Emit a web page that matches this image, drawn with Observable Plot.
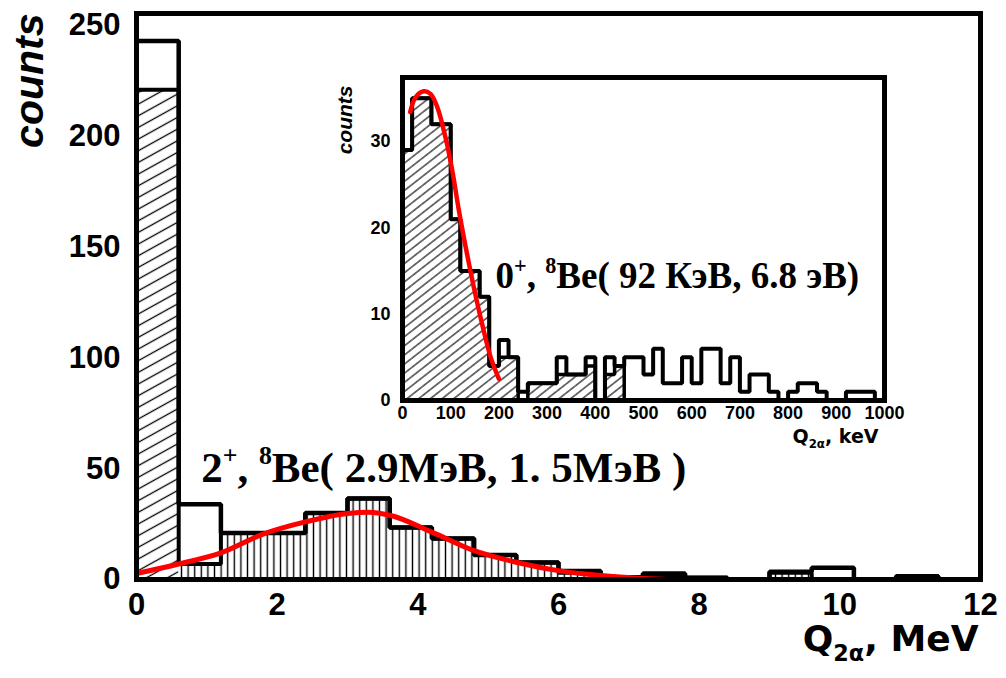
<!DOCTYPE html>
<html><head><meta charset="utf-8">
<script src="https://cdn.jsdelivr.net/npm/d3@7"></script>
<script src="https://cdn.jsdelivr.net/npm/@observablehq/plot@0.6"></script>
<style>
html,body{margin:0;padding:0;background:#fff;}
#wrap{position:relative;width:1006px;height:678px;overflow:hidden;background:#fff;}
#wrap svg{position:absolute;}
</style></head><body><div id="wrap"></div>
<script>
// ---------- main histogram (MeV) ----------
const mainEdges = [0,0.6,1.2,1.8,2.4,3.0,3.6,4.2,4.8,5.4,6.0,6.6,7.2,7.8,8.4,9.0,9.6,10.2,10.8,11.4,12.0];
const mainTotal    = [243,34,21,21,30,36.5,23.5,18.5,11,7.7,3.8,1,2.7,0.8,0,3.5,5.3,0,1.5,0];
const mainSelected = [221,7,21,21,30,36.5,23.5,18.5,11,7.7,3,1,2,0.8,0,3,0,0,1.5,0];
const mainFitX = [0,0.6,1.2,1.8,2.4,3.0,3.3,3.6,4.2,4.8,5.4,6.0,6.6,7.2,7.6,12];
const mainFitY = [2.7,7,12,20.5,26,29.8,30.4,29,21.4,13,7.8,4,1.8,0.5,0,0];
const mainXTicks = [0,2,4,6,8,10,12];
const mainYTicks = [0,50,100,150,200,250];
const mainNote = "2^{+}, ^{8}Be( 2.9МэВ, 1. 5МэВ )";
const mainXTitle = "Q_{2α}, MeV";
const mainYTitle = "counts";

// ---------- inset histogram (keV) ----------
const insetEdges = [0,20,40,60,80,100,120,140,160,180,200,220,240,260,280,300,320,340,360,380,400,
  420,440,460,480,500,520,540,560,580,600,620,640,660,680,700,720,740,760,780,800,
  820,840,860,880,900,920,940,960,980,1000];
const insetTotal    = [29,35,35,32,32,21,15,15,12,4,7,5,1,2,2,2,5,3,3,5,0,5,4,5,5,3,6,2,2,5,2,6,6,2,5,1,3,3,1,0,1,2,2,1,0,0,1,1,1,0];
const insetSelected = [29,35,35,32,32,21,15,15,12,4,5,5,0,2,2,2,3,3,3,4,0,3,4,0,0,0,0,0,0,0,0,0,0,0,0,0,0,0,0,0,0,0,0,0,0,0,0,0,0,0];
const insetFitX = [16,27,44,58,72,89,103,117,131,148,165,183,200];
const insetFitY = [33.4,35.1,35.8,35.5,34,30.5,26.7,22,17.8,13.1,8.9,5.0,2.5];
const insetXTicks = [0,100,200,300,400,500,600,700,800,900,1000];
const insetYTicks = [0,10,20,30];
const insetNote = "0^{+}, ^{8}Be( 92 КэВ, 6.8 эВ)";
const insetXTitle = "Q_{2α}, keV";
const insetYTitle = "counts";

// ---------- helpers ----------
const bins = (edges, tot, sel) => tot.map((v, i) => ({lo: edges[i], hi: edges[i + 1], total: v, sel: sel[i]}));
const steps = (edges, vals) => [
  {x: edges[0], y: 0},
  ...vals.map((v, i) => ({x: edges[i], y: v})),
  {x: edges[edges.length - 1], y: vals[vals.length - 1]},
  {x: edges[edges.length - 1], y: 0}
];
const pts = (xs, ys) => xs.map((x, i) => ({x, y: ys[i]}));

const SANS = "Liberation Sans, Arial, sans-serif";
const WIDE = "DejaVu Sans, sans-serif";
const SERIF = "Liberation Serif, Times New Roman, serif";

function addDefs(svg, html) {
  const ns = "http://www.w3.org/2000/svg";
  const defs = document.createElementNS(ns, "defs");
  defs.innerHTML = html;
  svg.insertBefore(defs, svg.firstChild);
}
function richText(svg) {
  const ns = "http://www.w3.org/2000/svg";
  svg.querySelectorAll("text").forEach(t => {
    const s = t.textContent;
    if (!/[\^_]\{/.test(s)) return;
    const fs = parseFloat(getComputedStyle(t).fontSize);
    const parts = [];
    const re = /(\^|_)\{([^}]*)\}/g;
    let last = 0, m;
    while ((m = re.exec(s))) {
      if (m.index > last) parts.push({k: "n", s: s.slice(last, m.index)});
      parts.push({k: m[1] === "^" ? "sup" : "sub", s: m[2]});
      last = re.lastIndex;
    }
    if (last < s.length) parts.push({k: "n", s: s.slice(last)});
    while (t.firstChild) t.removeChild(t.firstChild);
    let shift = 0;
    for (const p of parts) {
      const ts = document.createElementNS(ns, "tspan");
      let target = 0;
      if (p.k === "sup") { target = -0.42 * fs; ts.setAttribute("font-size", 0.6 * fs); }
      if (p.k === "sub") { target = 0.28 * fs; ts.setAttribute("font-size", 0.62 * fs); }
      ts.setAttribute("dy", target - shift);
      shift = target;
      ts.textContent = p.s;
      t.appendChild(ts);
    }
  });
}

const wrap = document.getElementById("wrap");

// ---------- main chart ----------
const mb = bins(mainEdges, mainTotal, mainSelected);
const main = Plot.plot({
  width: 1006, height: 678,
  marginLeft: 136, marginRight: 26, marginTop: 13, marginBottom: 99,
  x: {domain: [0, 12]},
  y: {domain: [0, 255.4]},
  style: {background: "transparent", overflow: "visible", fontFamily: SANS},
  marks: [
    Plot.rectY(mb.slice(0, 1), {x1: "lo", x2: "hi", y: "sel", fill: "url(#mDiag)"}),
    Plot.rectY(mb.slice(1), {x1: "lo", x2: "hi", y: "sel", fill: "url(#mVert)"}),
    Plot.line(steps(mainEdges, mainSelected), {x: "x", y: "y", curve: "step-after", stroke: "black", strokeWidth: 4, strokeLinejoin: "miter", strokeLinecap: "butt"}),
    Plot.line(steps(mainEdges, mainTotal), {x: "x", y: "y", curve: "step-after", stroke: "black", strokeWidth: 4.5, strokeLinejoin: "miter", strokeLinecap: "butt"}),
    Plot.line(pts(mainFitX, mainFitY), {x: "x", y: "y", curve: "monotone-x", stroke: "#ff0000", strokeWidth: 5}),
    Plot.frame({stroke: "black", strokeWidth: 5}),
    Plot.axisX({ticks: mainXTicks, tickSize: 0, tickPadding: 13, fontSize: 31, fontWeight: "bold", fontFamily: SANS, label: null, tickFormat: d3.format("d")}),
    Plot.axisY({ticks: mainYTicks, tickSize: 0, tickPadding: 16, fontSize: 31, fontWeight: "bold", fontFamily: SANS, label: null, tickFormat: d3.format("d")}),
    Plot.text([mainNote], {text: d => d, x: 0.92, y: 43.8, textAnchor: "start", lineAnchor: "bottom", fontSize: 43, fontWeight: "bold", fontFamily: SERIF, fill: "black"}),
    Plot.text([mainXTitle], {text: d => d, frameAnchor: "bottom-right", dx: -2, dy: 71, textAnchor: "end", lineAnchor: "bottom", fontSize: 36, fontWeight: "bold", fontFamily: WIDE, fill: "black"}),
    Plot.text([mainYTitle], {text: d => d, frameAnchor: "top-left", dx: -94, dy: 0, rotate: -90, textAnchor: "end", lineAnchor: "bottom", fontSize: 41, fontWeight: "bold", fontStyle: "italic", fontFamily: SANS, fill: "black"})
  ]
});
addDefs(main, `
  <pattern id="mDiag" patternUnits="userSpaceOnUse" width="10.2" height="10.2" patternTransform="rotate(-29)">
    <line x1="0" y1="5.1" x2="10.2" y2="5.1" stroke="black" stroke-width="1.3"/></pattern>
  <pattern id="mVert" patternUnits="userSpaceOnUse" width="6.6" height="10">
    <line x1="3.3" y1="0" x2="3.3" y2="10" stroke="black" stroke-width="1.4"/></pattern>`);
main.style.left = "0px"; main.style.top = "0px";
wrap.appendChild(main);
richText(main);

// ---------- inset chart ----------
const ib = bins(insetEdges, insetTotal, insetSelected);
const inset = Plot.plot({
  width: 590, height: 400,
  marginLeft: 82, marginRight: 26, marginTop: 17, marginBottom: 60,
  x: {domain: [0, 1000]},
  y: {domain: [0, 37.4]},
  style: {background: "transparent", overflow: "visible", fontFamily: SANS},
  marks: [
    Plot.rectY(ib, {x1: "lo", x2: "hi", y: "sel", fill: "url(#iDiag)"}),
    Plot.line(steps(insetEdges, insetSelected), {x: "x", y: "y", curve: "step-after", stroke: "black", strokeWidth: 3.5, strokeLinejoin: "miter", strokeLinecap: "butt"}),
    Plot.line(steps(insetEdges, insetTotal), {x: "x", y: "y", curve: "step-after", stroke: "black", strokeWidth: 4, strokeLinejoin: "miter", strokeLinecap: "butt"}),
    Plot.line(pts(insetFitX, insetFitY), {x: "x", y: "y", curve: "catmull-rom", stroke: "#ff0000", strokeWidth: 4.5}),
    Plot.frame({stroke: "black", strokeWidth: 5}),
    Plot.axisX({ticks: insetXTicks, tickSize: 0, tickPadding: 6, fontSize: 18, fontWeight: "bold", fontFamily: SANS, label: null, tickFormat: d3.format("d")}),
    Plot.axisY({ticks: insetYTicks, tickSize: 0, tickPadding: 12, fontSize: 18, fontWeight: "bold", fontFamily: SANS, label: null, tickFormat: d3.format("d")}),
    Plot.text([insetNote], {text: d => d, x: 193, y: 13, textAnchor: "start", lineAnchor: "bottom", fontSize: 37, fontWeight: "bold", fontFamily: SERIF, fill: "black"}),
    Plot.text([insetXTitle], {text: d => d, frameAnchor: "bottom-right", dx: -6, dy: 42, textAnchor: "end", lineAnchor: "bottom", fontSize: 19, fontWeight: "bold", fontFamily: WIDE, fill: "black"}),
    Plot.text([insetYTitle], {text: d => d, frameAnchor: "top-left", dx: -51, dy: 8, rotate: -90, textAnchor: "end", lineAnchor: "bottom", fontSize: 21, fontWeight: "bold", fontStyle: "italic", fontFamily: SANS, fill: "black"})
  ]
});
addDefs(inset, `
  <pattern id="iDiag" patternUnits="userSpaceOnUse" width="7.2" height="7.2" patternTransform="rotate(-38)">
    <line x1="0" y1="3.6" x2="7.2" y2="3.6" stroke="black" stroke-width="1.1"/></pattern>`);
inset.style.left = "320px"; inset.style.top = "60px";
wrap.appendChild(inset);
richText(inset);
</script></body></html>
